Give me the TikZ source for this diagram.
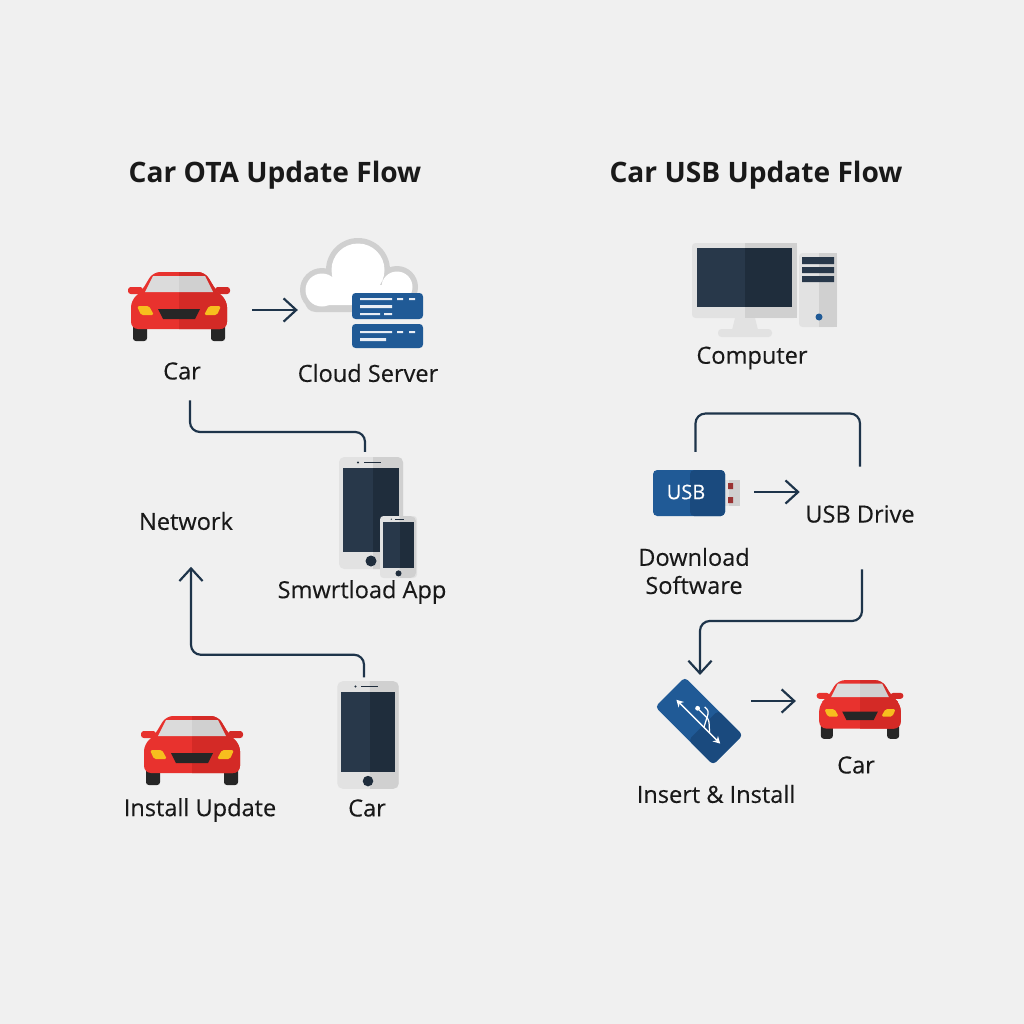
\documentclass[tikz,border=0pt]{standalone}
\usepackage{fontspec}
\setmainfont{Open Sans}
\newfontfamily\lblfont[FakeBold=.3]{Open Sans}
\usetikzlibrary{positioning,arrows.meta,calc}
\definecolor{Paper}{RGB}{240,240,240}
\definecolor{Ink}{RGB}{30,52,74}
\definecolor{Screen}{RGB}{40,56,74}
\definecolor{ScreenD}{RGB}{31,45,60}
\definecolor{Blue}{RGB}{32,90,150}
\definecolor{BlueD}{RGB}{26,74,126}
\definecolor{Red}{RGB}{232,50,46}
\definecolor{RedD}{RGB}{212,42,38}
\definecolor{Shell}{RGB}{226,226,226}
\definecolor{ShellD}{RGB}{208,208,208}
\definecolor{Lamp}{RGB}{247,190,30}
\newcommand{\carshape}{(-38,-14) -- (-26,-34) -- (26,-34) -- (38,-14) -- (48,-6) -- (48,23) -- (-48,23) -- (-48,-6) -- cycle}
\tikzset{
 pics/carpic/.style={code={
  \fill[black!85,rounded corners=.8pt] (-46,15) rectangle (-32,35) (32,15) rectangle (46,35);
  \fill[Red,rounded corners=.8pt] (-51,-19) rectangle (-36,-12);
  \fill[RedD,rounded corners=.8pt] (36,-19) rectangle (51,-12);
  \fill[Red,rounded corners=2pt] \carshape;
  \begin{scope}
   \clip (0,-40) rectangle (60,40);
   \fill[RedD,rounded corners=2pt] \carshape;
  \end{scope}
  \fill[black!3!Shell] (-34,-14) -- (-26,-30) -- (0,-30) -- (0,-14) -- cycle;
  \fill[ShellD] (0,-14) -- (0,-30) -- (26,-30) -- (34,-14) -- cycle;
  \fill[Lamp,rounded corners=.5pt] (-42,0) -- (-30,0) -- (-25,9) -- (-38,9) -- cycle;
  \fill[Lamp,rounded corners=.5pt] (42,0) -- (30,0) -- (25,9) -- (38,9) -- cycle;
  \fill[black!85] (-21,3) -- (21,3) -- (16,13) -- (-16,13) -- cycle;
 }},
 pics/phonepic/.style={code={
  \fill[Shell,rounded corners=1.5pt] (-32,-56) rectangle (32,56);
  \begin{scope}
   \clip (2,-60) rectangle (40,60);
   \fill[ShellD,rounded corners=1.5pt] (-32,-56) rectangle (32,56);
  \end{scope}
  \fill[Screen] (-28,-45) rectangle (28,39);
  \fill[ScreenD] (2,-45) rectangle (28,39);
  \fill[ScreenD] (0,48) circle (5.5);
  \fill[ScreenD] (-13,-50.5) circle (1.2);
  \fill[ScreenD] (-7,-51.2) rectangle (10,-49.8);
 }}
}
\begin{document}
\begin{tikzpicture}[x=.01cm,y=-.01cm,
 ico/.style={inner sep=0pt,outer sep=0pt},
 lbl/.style={inner sep=0pt,text=black!90,font=\lblfont\fontsize{6.7pt}{8pt}\selectfont,align=center},
 ttl/.style={inner sep=0pt,text=black!90,font=\fontsize{8pt}{10pt}\selectfont\bfseries},
 a/.style={-{Straight Barb[length=3.6pt,width=6.6pt]},line width=.62pt,Ink},
 l/.style={line width=.62pt,Ink,rounded corners=2.8pt}]
\useasboundingbox (0,0) rectangle (1024,1024);
\fill[Paper] (0,0) rectangle (1024,1024);
% left flow
\node[ttl] (ota) at (275,175) {Car OTA Update Flow};
\node[ico,minimum width=1.02cm,minimum height=.7cm] (car1) at (179,310) {};
\pic at (179,306) {carpic};
\node[ico,minimum width=1.18cm,minimum height=.74cm] (cloud) at (359,310) {};
\fill[ShellD] (358,270) circle (32) (322,290) circle (22) (397,287) circle (21);
\fill[ShellD,rounded corners=3pt] (305,285) rectangle (415,312);
\fill[white] (358,270) circle (26.5) (322,290) circle (16.5) (397,287) circle (15.5);
\fill[white,rounded corners=2pt] (310,285) rectangle (410,305);
\fill[Blue,rounded corners=1pt] (352,293) rectangle (423,319);
\fill[Blue,rounded corners=1pt] (352,324) rectangle (423,348);
\fill[white!90!Blue] (360,298) rectangle (392,300) (360,305) rectangle (392,308) (360,313) rectangle (380,315) (397,298) rectangle (403,300) (409,298) rectangle (415,300) (384,313) rectangle (392,315);
\fill[white!90!Blue] (360,331) rectangle (392,333) (360,338) rectangle (386,341) (397,331) rectangle (403,333) (409,331) rectangle (415,333);
\node[lbl] (lcar1) at (182,371) {Car};
\node[lbl] (lcloud) at (368,373) {Cloud Server};
\node[ico,minimum width=.64cm,minimum height=1.12cm] (phone1) at (371,513) {};
\pic at (371,513) {phonepic};
\fill[Shell,rounded corners=1pt] (380,516) rectangle (417,578);
\pic[scale=.55] at (398.5,547) {phonepic};
\node[lbl] (lapp) at (362,592) {Smwrtload App};
\node[lbl] (lnet) at (186,521) {Network};
\node[ico,minimum width=.62cm,minimum height=1.07cm] (phone2) at (368,735) {};
\pic[scale=.96] at (368,735) {phonepic};
\node[lbl] (lcar2) at (367,808) {Car};
\node[ico,minimum width=1.02cm,minimum height=.7cm] (car2) at (192,750) {};
\pic at (192,750) {carpic};
\node[lbl] (linst) at (200,810) {Install Update};
\draw[a,shorten <=6.3pt,shorten >=.6pt] (car1.east) -- (cloud.west);
\draw[l] ([shift={(8,20)}]lcar1.south) |- ([shift={(-6,-25)}]phone1.north) -- ([shift={(-6,-5)}]phone1.north);
\draw[a,rounded corners=2.8pt] ([shift={(-4,-4)}]phone2.north) |- ([shift={(5,124)}]lnet.south) -- ([shift={(5,36)}]lnet.south);
% right flow
\node[ttl] (usbf) at (756,175) {Car USB Update Flow};
\node[ico,minimum width=1.45cm,minimum height=.94cm] (pc) at (765,290) {};
\fill[Shell] (735,318) -- (755,318) -- (758,330) -- (732,330) -- cycle;
\fill[Shell,rounded corners=1pt] (718,329) rectangle (772,337);
\fill[Shell,rounded corners=1pt] (692,243) rectangle (797,318);
\fill[ShellD] (745,243) rectangle (797,318);
\fill[Screen] (697,248) rectangle (745,307);
\fill[ScreenD] (745,248) rectangle (792,307);
\fill[Shell,rounded corners=1pt] (799,253) rectangle (837,327);
\fill[ShellD] (819,253) rectangle (837,327);
\fill[Screen] (802,257) rectangle (834,264) (802,267) rectangle (834,273) (802,276) rectangle (834,282);
\fill[Blue] (819,317) circle (3.5);
\node[lbl] (lpc) at (752,358) {Computer};
\node[ico,minimum width=.87cm,minimum height=.46cm] (usb) at (696.5,492) {};
\fill[Shell] (717,480) rectangle (740,506);
\fill[ShellD] (729,480) rectangle (740,506);
\fill[red!50!black!80] (728,483) rectangle (733,489) (728,497) rectangle (733,503);
\fill[Blue,rounded corners=1.2pt] (653,470) rectangle (725,516);
\fill[BlueD,rounded corners=1.2pt] (690,470) rectangle (725,516);
\node[inner sep=0pt,text=white,font=\lblfont\fontsize{5.7pt}{7pt}\selectfont] (tusb) at (686,492) {USB};
\node[lbl] (ldrive) at (860,514) {USB Drive};
\node[lbl] (ldown) at (694,571) {Download\\Software};
\node[ico,minimum width=.6cm,minimum height=.9cm] (ins) at (699,721) {};
\begin{scope}[shift={(699,721)},rotate=-45]
 \fill[Blue,rounded corners=1.2pt] (-41,-21) rectangle (41,21);
 \fill[BlueD,rounded corners=1.2pt] (6,-21) rectangle (41,21);
 \draw[white,line width=.4pt,{Stealth[length=2pt,width=2.2pt]}-{Stealth[length=2pt,width=2.2pt]}] (-31,1) -- (31,1);
 \draw[white,line width=.35pt,rounded corners=.8pt] (16,1) -- (6,-8) -- (-8,-8);
 \draw[white,line width=.35pt,rounded corners=.8pt] (8,1) -- (0,-14) -- (-6,-14);
 \fill[white] (-10,-8) circle (2.4);
\end{scope}
\node[lbl] (lins) at (716,794) {Insert \& Install};
\node[ico,minimum width=.86cm,minimum height=.58cm] (car3) at (860,701) {};
\pic[scale=.85] at (860,709) {carpic};
\node[lbl] (lcar3) at (856,765) {Car};
\draw[a,shorten <=4pt,shorten >=1.4pt] (usb.east) -- (usb.east -| ldrive.west);
\draw[l] ([shift={(-1,-17)}]usb.north) |- ([shift={(0,-91)}]ldrive.north) -- ([shift={(0,-38)}]ldrive.north);
\draw[a,rounded corners=2.8pt] ([shift={(2,46)}]ldrive.south) |- ([shift={(1,-55)}]ins.north) -- ([shift={(1,-1)}]ins.north);
\draw[a,shorten <=6.3pt,shorten >=6pt] (ins.east |- car3.west) -- (car3.west);
\end{tikzpicture}
\end{document}
